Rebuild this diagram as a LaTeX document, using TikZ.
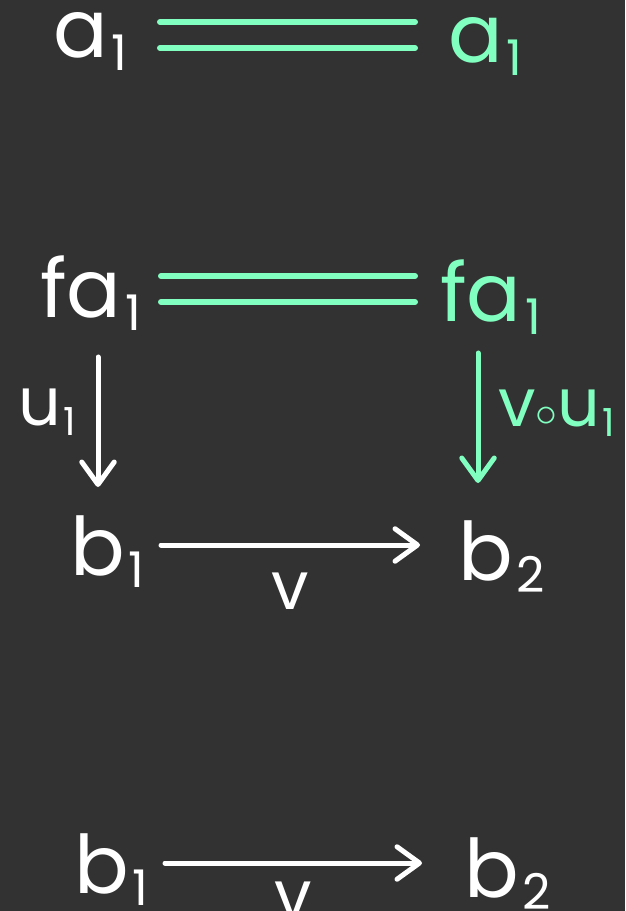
\documentclass[tikz,border=0pt]{standalone}
\usepackage{fontspec}
\setmainfont{Poppins}
\usetikzlibrary{positioning,arrows.meta,calc}
\definecolor{board}{HTML}{323232}
\definecolor{mint}{HTML}{80FFC0}
\newcommand{\lo}[1]{\kern2pt\raisebox{-7pt}{\fontsize{28}{28}\selectfont #1}}
\newcommand{\slo}[1]{\kern1pt\raisebox{-6pt}{\fontsize{22}{22}\selectfont #1}}

\begin{document}
\begin{tikzpicture}[
  x=0.02cm, y=-0.02cm,
  obj/.style={inner sep=0pt, anchor=base west, text=white, font=\fontsize{46}{50}\selectfont},
  lbl/.style={inner sep=0pt, text=white, font=\fontsize{38}{42}\selectfont},
  eq/.style={mint, line width=0.12cm, line cap=round},
  arr/.style={-{Straight Barb[length=0.45cm, width=0.65cm, round]}, line width=0.1cm, line cap=round, white}
]
  \useasboundingbox[fill=board] (0,0) rectangle (625,911);

  % Top row
  \node[obj] (a1L) at (53,58) {a\lo{1}};
  \node[obj, text=mint] (a1R) at (448,63) {a\lo{1}};
  \draw[eq] ($(a1L.base west)+(107,-36)$) -- ($(a1L.base west -| a1R.base west)+(-33,-36)$);
  \draw[eq] ($(a1L.base west)+(107,-10)$) -- ($(a1L.base west -| a1R.base west)+(-33,-10)$);

  % Square
  \node[obj] (fa1L) at (40,318) {fa\lo{1}};
  \node[obj, text=mint] (fa1R) at (440,322) {fa\lo{1}};
  \node[obj] (b1) at (70,575) {b\lo{1}};
  \node[obj] (b2) at (458,580) {b\lo{2}};

  \draw[eq] ($(fa1L.base west)+(121,-42)$) -- ($(fa1L.base west -| fa1R.base west)+(-25,-42)$);
  \draw[eq] ($(fa1L.base west)+(121,-16)$) -- ($(fa1L.base west -| fa1R.base west)+(-25,-16)$);

  \draw[arr] ($(fa1L.base west)+(58,39)$) -- ($(b1.base west)+(28,-88)$)
    node[lbl, midway, left=0.4cm, yshift=0.2cm] (u1) {u\slo{1}};
  \draw[arr, mint] ($(fa1R.base west)+(38,31)$) -- ($(b2.base west)+(20,-97)$)
    node[lbl, midway, right=0.36cm, yshift=0.1cm, text=mint] (vu1) {v\ensuremath{\circ}u\slo{1}};
  \draw[arr] ($(b1.base west)+(91,-30)$) -- ($(b1.base west -| b2.base west)+(-38,-30)$)
    node[lbl, midway, below=0.5cm] (v) {v};

  % Bottom row
  \node[obj] (b1B) at (74,893) {b\lo{1}};
  \node[obj] (b2B) at (464,897) {b\lo{2}};
  \draw[arr] ($(b1B.base west)+(91,-30)$) -- ($(b1B.base west -| b2B.base west)+(-42,-30)$)
    node[lbl, midway, below=0.32cm] (vB) {v};
\end{tikzpicture}
\end{document}
